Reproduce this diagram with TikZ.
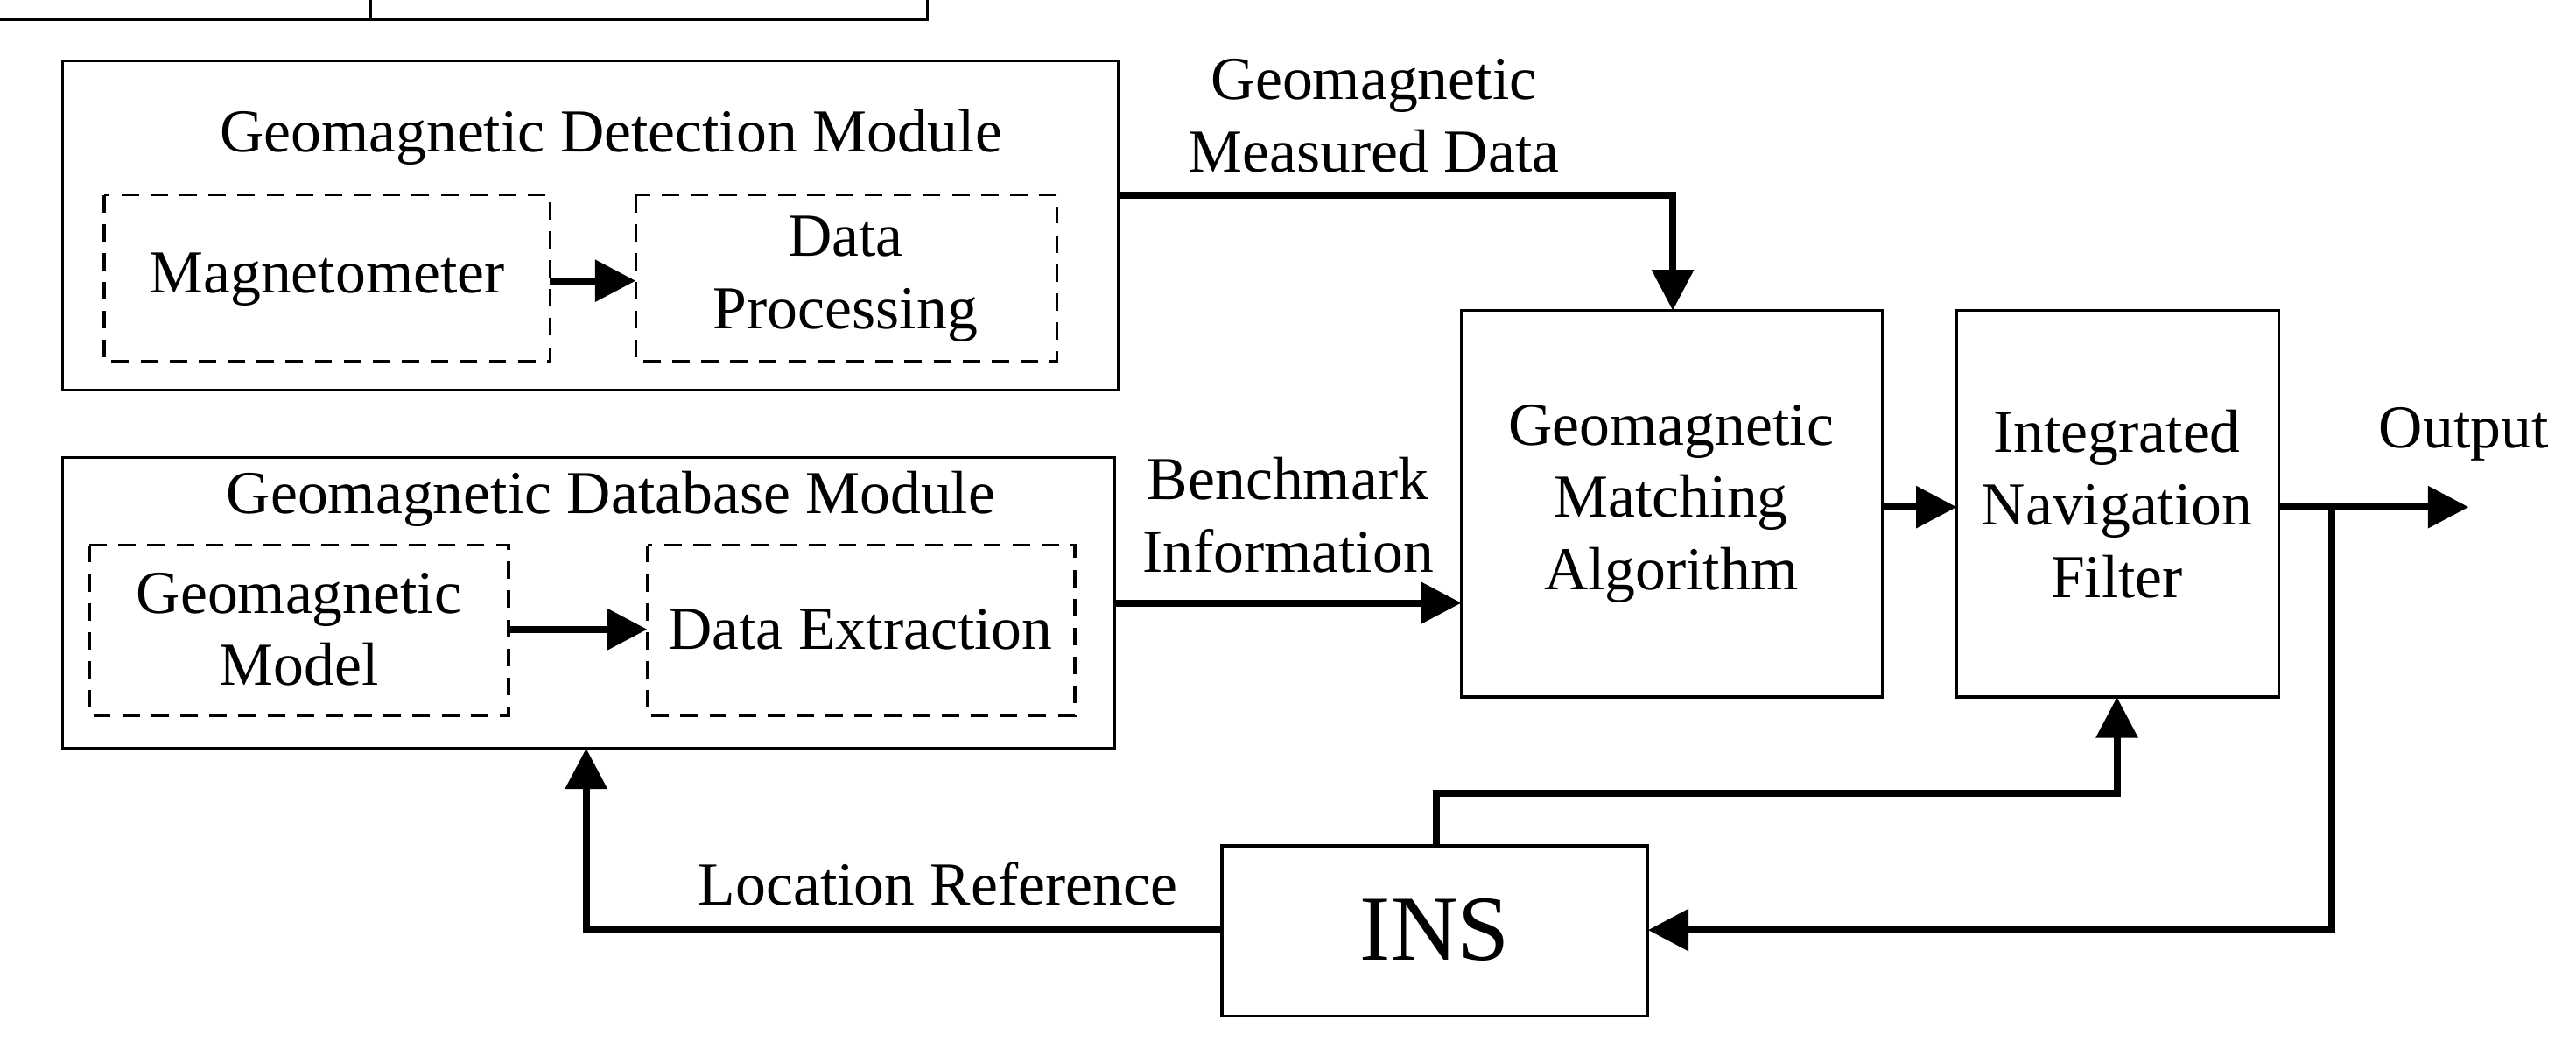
\documentclass[tikz,border=0pt]{standalone}
\usepackage{fontspec}
\setmainfont{Liberation Serif}
\usetikzlibrary{arrows.meta}
\begin{document}
\begin{tikzpicture}[x=0.01cm,y=-0.01cm,
 box/.style={draw,line width=0.5pt},
 dbox/.style={draw,line width=0.5pt,dash pattern=on 3pt off 2pt},
 arr/.style={line width=1.2pt,-{Triangle[length=7pt,width=7pt]}},
 ln/.style={line width=1.2pt},
 txt/.style={font=\fontsize{10.5}{12.5}\selectfont,align=center,inner sep=0pt}]
\useasboundingbox (0,0) rectangle (1560,643);
\node[box,minimum width=639\pgflinewidth] (det) at (0,0) {};
\path[box] (38,37) rectangle (677,236);
\coordinate (detR) at (677,118);
\node[txt] (detT) at (370,83) {Geomagnetic Detection Module};
\draw[dbox] (63,118) rectangle (333,219);
\node[txt] (mag) at (198,169) {Magnetometer};
\coordinate (magR) at (333,170);
\draw[dbox] (385,118) rectangle (640,219);
\node[txt] (dp) at (512,169) {Data\\Processing};
\coordinate (dpL) at (385,170);
\path[box] (38,277) rectangle (675,453);
\node[txt] (dbT) at (370,302) {Geomagnetic Database Module};
\draw[dbox] (54,330) rectangle (308,433);
\node[txt] (gm) at (181,381) {Geomagnetic\\Model};
\coordinate (gmR) at (308,381);
\draw[dbox] (392,330) rectangle (651,433);
\node[txt] (de) at (521,381) {Data Extraction};
\coordinate (deL) at (392,381);
\coordinate (dbR) at (675,365);
\coordinate (dbB) at (355,453);
\node[box,minimum width=255\pgflinewidth] at (0,0) {};
\path[box] (885,188) rectangle (1140,422);
\node[txt] (gma) at (1012,305) {Geomagnetic\\Matching\\Algorithm};
\coordinate (gmaT) at (1013,188);
\coordinate (gmaL) at (885,365);
\coordinate (gmaR) at (1140,307);
\path[box] (1185,188) rectangle (1380,422);
\node[txt] (inf) at (1282,305) {Integrated\\Navigation\\Filter};
\coordinate (infL) at (1185,307);
\coordinate (infR) at (1380,307);
\coordinate (infB) at (1282,422);
\path[box] (740,512) rectangle (998,615);
\node[txt,font=\fontsize{16}{18}\selectfont] (ins) at (869,563) {INS};
\coordinate (insR) at (998,563);
\coordinate (insL) at (740,563);
\coordinate (insT) at (870,512);
\coordinate (out) at (1495,307);
\coordinate (tap) at (1412,307);
\node[txt] (l1) at (832,70) {Geomagnetic\\Measured Data};
\node[txt] (l2) at (780,312) {Benchmark\\Information};
\node[txt] (l3) at (1492,263) {Output};
\node[txt] (l4) at (568,535) {Location Reference};
\draw[arr] (magR) -- (dpL);
\draw[arr] (gmR) -- (deL);
\draw[arr] (detR) -| (gmaT);
\draw[arr] (dbR) -- (gmaL);
\draw[arr] (gmaR) -- (infL);
\draw[arr] (infR) -- (out);
\draw[arr] (tap) |- (insR);
\draw[arr] (insT) |- (1282,480) -- (infB);
\draw[arr] (insL) -| (dbB);
\end{tikzpicture}
\end{document}
